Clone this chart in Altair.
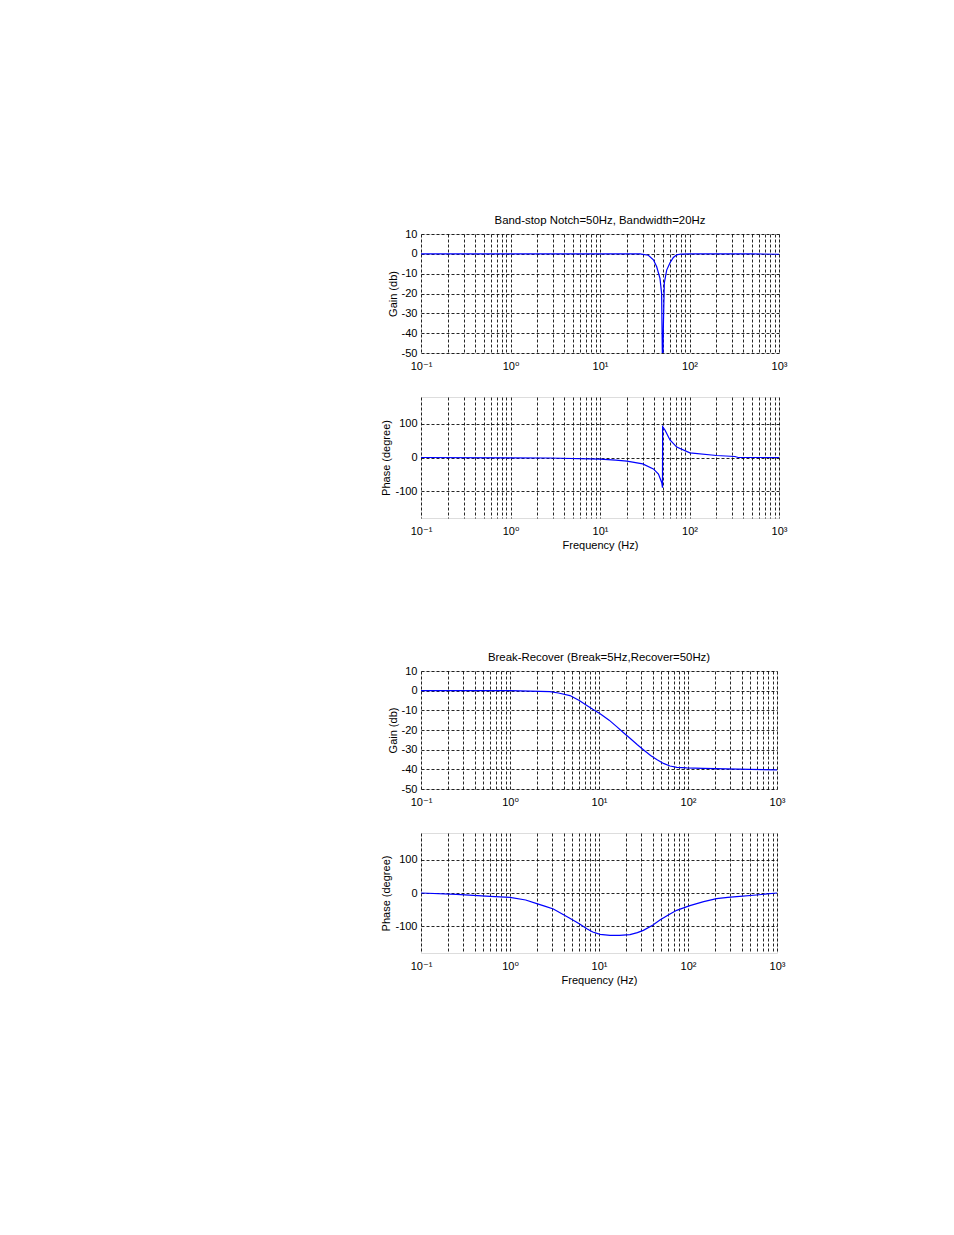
import altair as alt
import pandas as pd

# ---- data ----
# Band-stop notch, gain (dB)
f_g1 = [0.1, 1, 10, 28, 34.7, 39.5, 43, 46.8, 48.8, 50.0, 50.3, 51, 52.3, 55.6, 60.6, 66, 72, 80, 100, 500, 1000]
g1 = [0, 0, 0, 0, -0.7, -3, -6.5, -12.4, -20, -60, -60, -37.6, -14.7, -8.2, -4.5, -1.8, -0.5, -0.1, 0, 0, -0.2]
# Band-stop notch, phase (degree)
f_p1 = [0.1, 2.7, 10, 15, 20, 30, 39.5, 45, 49, 49.9, 50.1, 53.2, 60.5, 72, 101, 201, 322, 350, 1000]
p1 = [0, -1.5, -5, -8, -11, -19, -34, -49, -75, -90, 92, 82, 52, 31, 14, 6, 3, 0, 0]
# Break-recover, gain (dB)
f_g2 = [0.1, 1, 2.81, 3.5, 4.72, 6, 7.3, 8.5, 10.3, 13, 15.8, 19, 22.3, 27, 31.5, 38, 44.5, 53, 62.8, 75, 96.6, 148, 500, 1000]
g2 = [0, 0, -0.5, -1.2, -2.5, -5, -7.5, -9.5, -11.7, -15, -18.3, -21.5, -24.2, -27.5, -30, -33, -35, -37, -38.3, -39, -39.3, -39.5, -40, -40.3]
# Break-recover, phase (degree)
f_p2 = [0.1, 0.25, 0.6, 1, 1.5, 2, 2.5, 3.07, 4.7, 6, 7.3, 8.5, 10.3, 13.3, 17, 22.3, 27, 31.5, 40, 48.4, 60, 74.6, 105, 150, 209, 280, 352, 588, 1000]
p2 = [0, -4, -10, -13, -21, -32, -40, -48, -76, -92, -107, -117, -124, -127, -127, -125, -119, -112, -97, -81, -66, -52, -38, -26, -17, -13, -11, -6, 0]

x_grid = [m * 10.0 ** e for e in range(-1, 3) for m in range(1, 10)] + [1000.0]
x_decades = [0.1, 1, 10, 100, 1000]
x_labels = ["10\u207b\u00b9", "10\u2070", "10\u00b9", "10\u00b2", "10\u00b3"]
gain_ticks = [10, 0, -10, -20, -30, -40, -50]
phase_ticks = [100, 0, -100]

titles = ["Band-stop Notch=50Hz, Bandwidth=20Hz", "Break-Recover (Break=5Hz,Recover=50Hz)"]

label_expr = " : ".join(
    f"abs(datum.value - {v}) < {v * 1e-3} ? '{t}'" for v, t in zip(x_decades, x_labels)
) + " : ''"

FONT = "Liberation Sans, Arial, DejaVu Sans"
GRID = dict(grid=True, gridDash=[3, 2], gridColor="#000000", gridOpacity=0.85, gridWidth=1)


def panel(f, v, ydom, yticks, ytitle, w, h, xtitle=None, title=None):
    df = pd.DataFrame({"f": f, "v": v})
    xaxis = dict(values=x_grid, labelExpr=label_expr, ticks=False, domain=False,
                 labelOverlap=False, labelFlush=False, labelPadding=7, labelFontSize=11,
                 labelColor="#000", labelFont=FONT, **GRID)
    if xtitle:
        xaxis.update(title=xtitle, titlePadding=3, titleFontWeight="normal",
                     titleFont=FONT, titleFontSize=11, titleColor="#000")
    else:
        xaxis.update(title=None)
    ch = alt.Chart(df).mark_line(color="#0000ff", strokeWidth=1.2, clip=True).encode(
        x=alt.X("f:Q", scale=alt.Scale(type="log", domain=[0.1, 1000], nice=False),
                axis=alt.Axis(**xaxis)),
        y=alt.Y("v:Q", scale=alt.Scale(domain=ydom, nice=False, zero=False),
                axis=alt.Axis(values=yticks, ticks=False, domain=False, title=ytitle,
                              labelExpr="'' + datum.value", labelFlush=False,
                              labelPadding=4, titlePadding=3, labelFontSize=11,
                              labelColor="#000", labelFont=FONT, titleFont=FONT,
                              titleFontSize=11, titleFontWeight="normal", titleColor="#000",
                              **GRID)),
    )
    props = dict(width=w, height=h)
    if title:
        props["title"] = alt.TitleParams(title, fontSize=11.4, fontWeight="normal",
                                         offset=2, font=FONT, color="#000")
    return ch.properties(**props)


g1c = panel(f_g1, g1, [-50, 10], gain_ticks, "Gain (db)", 358, 119, title=titles[0])
p1c = panel(f_p1, p1, [-180, 180], phase_ticks, "Phase (degree)", 358, 121, xtitle="Frequency (Hz)")
g2c = panel(f_g2, g2, [-50, 10], gain_ticks, "Gain (db)", 356, 118, title=titles[1])
p2c = panel(f_p2, p2, [-180, 180], phase_ticks, "Phase (degree)", 356, 120, xtitle="Frequency (Hz)")

spacer = alt.Chart(pd.DataFrame({"a": [0]})).mark_point(opacity=0).encode(
    x=alt.X("a:Q", axis=None), y=alt.Y("a:Q", axis=None)
).properties(width=356, height=65, view=alt.ViewConfig(stroke="transparent"))

chart = alt.vconcat(g1c, p1c, spacer, g2c, p2c, spacing=44, bounds="flush").properties(
    padding={"left": 372, "top": 206, "right": 5, "bottom": 5}
).configure_view(stroke="#000", strokeWidth=1).configure(background="white")

chart.save("out.html", embed_options={"renderer": "svg", "actions": False})
